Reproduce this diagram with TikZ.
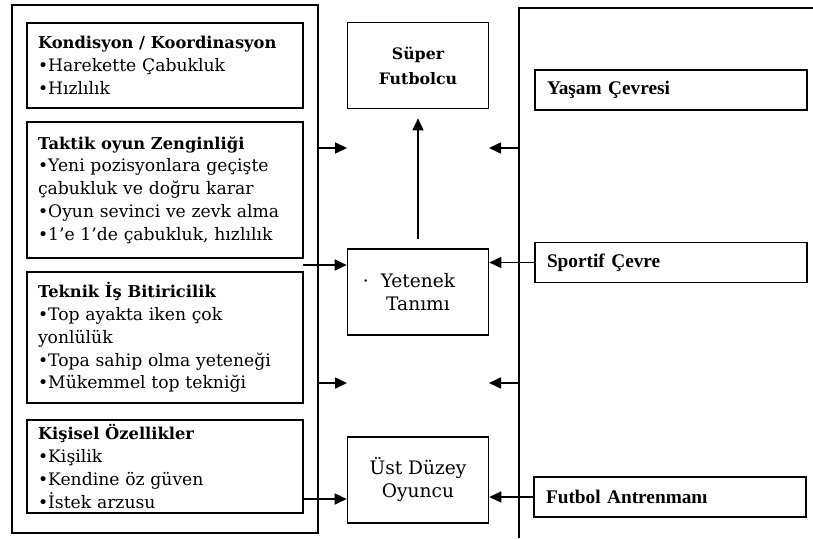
\documentclass[tikz,border=0pt]{standalone}
\usepackage{fontspec}
\setmainfont{DejaVu Serif}
\newfontfamily\timesfont{Liberation Serif}
\usetikzlibrary{arrows.meta}
\newcommand\headline[1]{{\fontsize{16.3}{22.5}\selectfont\bfseries #1}}
\begin{document}
\begin{tikzpicture}[x=1pt,y=-1pt,
  frame/.style={draw, line width=1.6pt, inner sep=0pt},
  topic/.style={draw, line width=1.6pt, inner xsep=11pt, inner ysep=0pt,
    text width=254pt, align=left,
    font=\fontsize{17.2}{22.8}\selectfont},
  goal/.style={draw, line width=1.6pt, minimum width=141pt, minimum height=86pt,
    align=center, font=\fontsize{18.6}{23}\selectfont},
  env/.style={draw, line width=1.6pt, inner xsep=12pt, inner ysep=0pt,
    text width=248pt, minimum height=40pt, align=left,
    font=\timesfont\bfseries\fontsize{19.3}{22}\selectfont},
  link/.style={line width=1.6pt, -{Triangle[length=12pt,width=11pt]}}]
\useasboundingbox (0,0) rectangle (813,538);

% outer groupings
\node[frame, minimum width=306pt, minimum height=528pt] (lframe) at (165,269) {};
\draw[line width=1.6pt] (813,8) -| (519,538);

% factor boxes on the left
\node[topic, minimum height=85pt] (kond) at (165,65.5)
  {\headline{Kondisyon / Koordinasyon}\\
   •Harekette Çabukluk\\
   •Hızlılık};
\node[topic, minimum height=136pt] (takt) at (165,190)
  {\headline{Taktik oyun Zenginliği}\\
   •Yeni pozisyonlara geçişte\\
   çabukluk ve doğru karar\\
   •Oyun sevinci ve zevk alma\\
   •1’e 1’de çabukluk, hızlılık};
\node[topic, minimum height=131pt] (tekn) at (165,337.5)
  {\headline{Teknik İş Bitiricilik}\\
   •Top ayakta iken çok\\
   yonlülük\\
   •Topa sahip olma yeteneği\\
   •Mükemmel top tekniği};
\node[topic, minimum height=93pt] (kisi) at (165,466.5)
  {\headline{Kişisel Özellikler}\\
   •Kişilik\\
   •Kendine öz güven\\
   •İstek arzusu};

% stages in the middle
\node[goal, font=\bfseries\fontsize{15.8}{25}\selectfont] (super) at (418,65.5)
  {Süper\\Futbolcu};
\node[goal] (yet) at (418,292) {\llap{·\hspace{12pt}}Yetenek\\Tanımı};
\node[goal] (ust) at (418,480) {Üst Düzey\\Oyuncu};

% environment boxes on the right
\node[env] (yasam) at (671,90) {Yaşam Çevresi};
\node[env] (sport) at (671,262.5) {Sportif Çevre};
\node[env] (antr) at (670,497) {Futbol Antrenmanı};

% free arrow ends
\coordinate (la) at (318,148);
\coordinate (lb) at (347,148);
\coordinate (ra) at (519,148);
\coordinate (rb) at (489,148);
\coordinate (lc) at (318,383);
\coordinate (ld) at (347,383);
\coordinate (rc) at (519,383);
\coordinate (rd) at (489,383);
\coordinate (lt) at (303,265);
\coordinate (lk) at (303,499);

% connectors
\draw[link, shorten <=9pt, shorten >=9pt] (yet.north) -- (super.south);
\draw[link] (la) -- (lb);
\draw[link] (ra) -- (rb);
\draw[link] (lc) -- (ld);
\draw[link] (rc) -- (rd);
\draw[link] (lt) -- (lt -| yet.west);
\draw[link] (sport.west) -- (sport.west -| yet.east);
\draw[link] (lk) -- (lk -| ust.west);
\draw[link] (antr.west) -- (antr.west -| ust.east);
\end{tikzpicture}
\end{document}
